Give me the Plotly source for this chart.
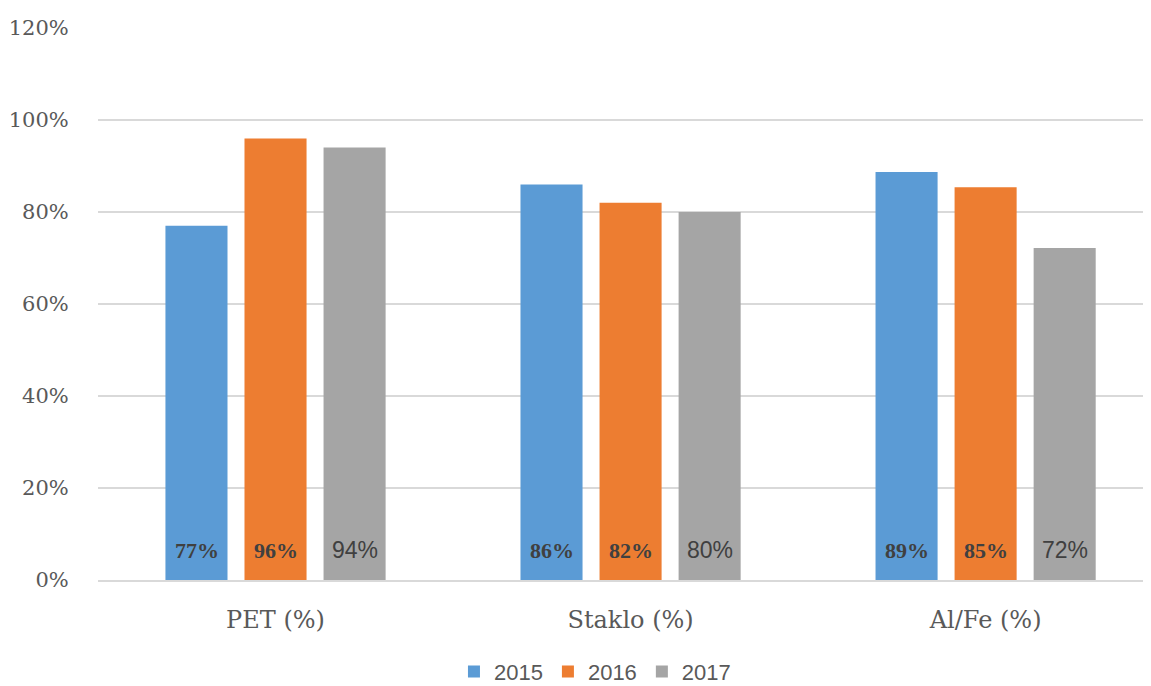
import plotly.graph_objects as go

categories = ["PET (%)", "Staklo (%)", "Al/Fe (%)"]
years = ["2015", "2016", "2017"]
v2015 = [0.77, 0.86, 0.887]
v2016 = [0.96, 0.82, 0.854]
v2017 = [0.94, 0.80, 0.722]
y_ticks = [0, 0.2, 0.4, 0.6, 0.8, 1.0, 1.2]

series = [v2015, v2016, v2017]
colors = ["#5B9BD5", "#ED7D31", "#A5A5A5"]

fig = go.Figure()
for name, vals, col in zip(years, series, colors):
    fig.add_trace(go.Bar(
        x=categories, y=vals, name=name,
        marker=dict(color=col, line=dict(width=0)),
    ))

annotations = []
offsets = [-79, 0, 79]
for j, vals in enumerate(series):
    for i, cat in enumerate(categories):
        if j < 2:
            font = dict(family="Liberation Serif", size=22, color="#404040",
                        weight="bold")
        else:
            font = dict(family="Liberation Sans", size=23, color="#404040")
        annotations.append(dict(
            x=cat, y=0, xref="x", yref="y",
            text=f"{vals[i]*100:.0f}%", showarrow=False,
            xshift=offsets[j], yshift=15, yanchor="bottom",
            font=font,
        ))

fig.update_layout(
    width=1143, height=694,
    margin=dict(l=90, r=1, t=20, b=122),
    paper_bgcolor="white", plot_bgcolor="white",
    barmode="group", bargap=0.332, bargroupgap=0.215,
    annotations=annotations,
    showlegend=True,
    legend=dict(orientation="h", x=0.4724, xanchor="center", y=-0.166, yanchor="middle",
                font=dict(family="Liberation Sans", size=22, color="#595959"),
                itemwidth=30, traceorder="normal"),
    xaxis=dict(
        range=[-0.5, 2.463], showgrid=False, showline=True,
        linecolor="#D9D9D9", linewidth=1.5,
        tickfont=dict(family="DejaVu Serif", size=24, color="#595959"),
        ticks="outside", ticklen=17, tickcolor="rgba(0,0,0,0)",
    ),
    yaxis=dict(
        range=[0, 1.2], tickvals=y_ticks, tickformat=".0%",
        showgrid=True, gridcolor="#D9D9D9", gridwidth=1.5,
        zeroline=False, showline=False,
        tickfont=dict(family="DejaVu Serif", size=21, color="#595959"),
        ticks="outside", ticklen=24, tickcolor="rgba(0,0,0,0)",
    ),
)

fig.write_html("out.html")
